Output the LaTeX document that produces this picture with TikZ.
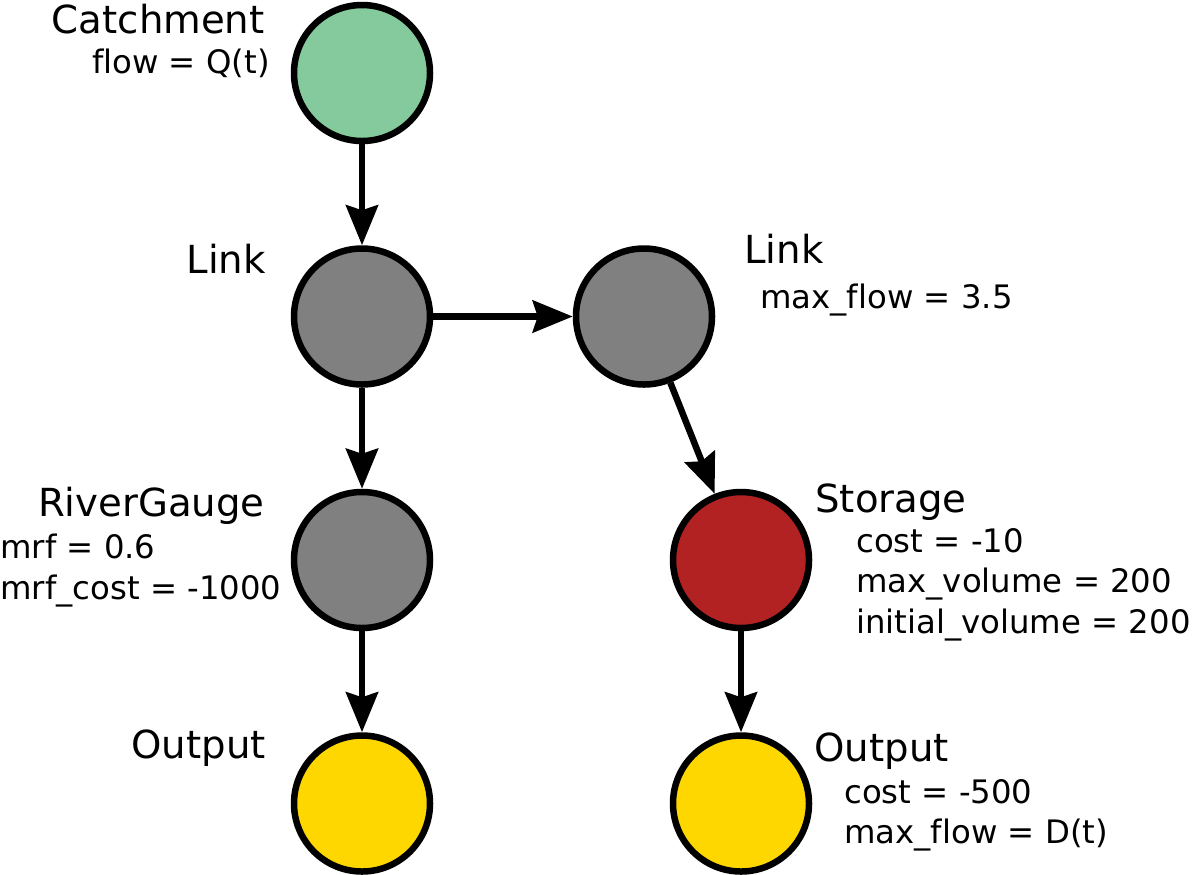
\documentclass[tikz,border=0pt]{standalone}
\usepackage{fontspec}
\setmainfont{DejaVu Sans}[Ligatures=CommonOff]
\usetikzlibrary{shapes.geometric, arrows.meta}
\definecolor{catchgreen}{RGB}{133,202,157}
\definecolor{linkgrey}{RGB}{128,128,128}
\definecolor{storered}{RGB}{178,34,34}
\definecolor{outyellow}{RGB}{255,215,0}
\tikzstyle{basenode} = [circle, 
minimum size=2.72cm, 
inner sep=0pt, 
draw=black, 
line width=0.13cm]
\tikzstyle{catchment} = [basenode, fill=catchgreen]
\tikzstyle{linknode} = [basenode, fill=linkgrey]
\tikzstyle{storagenode} = [basenode, fill=storered]
\tikzstyle{outputnode} = [basenode, fill=outyellow]
\tikzstyle{nodename} = [inner sep=0pt, 
font=\fontsize{22}{26}\selectfont]
\tikzstyle{attrs} = [inner sep=0pt, 
align=left, 
font=\fontsize{18.4}{22.8}\selectfont]
\tikzstyle{arrow} = [line width=0.13cm,-{Stealth[length=0.8cm, width=0.64cm, inset=0.1cm]}]

\begin{document}
\begin{tikzpicture} [node distance=4.87cm]
		\useasboundingbox (0,0) rectangle (23.88,-17.48);
		\node (catch) [catchment] at (7.24,-1.46) {};
		\node (link1) [linknode, below of=catch] {};
		\node (gauge) [linknode, below of=link1] {};
		\node (out1) [outputnode, below of=gauge] {};
		\node (link2) [linknode, right of=link1, node distance=5.64cm] {};
		\node (store) [storagenode, below of=link2, xshift=1.94cm] {};
		\node (out2) [outputnode, below of=store] {};
		% names and parameters (base = last line)
		\node (catchT) [nodename, anchor=base east, xshift=-1.94cm, yshift=0.8cm] at (catch.center) {Catchment};
		\node (catchA) [attrs, anchor=base east, xshift=-1.84cm] at (catch.center) {flow = Q(t)};
		\node (link1T) [nodename, anchor=base east, xshift=-1.92cm, yshift=0.86cm] at (link1.center) {Link};
		\node (gaugeT) [nodename, anchor=base east, xshift=-1.94cm, yshift=0.88cm] at (gauge.center) {RiverGauge};
		\node (gaugeA) [attrs, anchor=base west, xshift=-7.24cm, yshift=-0.78cm] at (gauge.center) {mrf = 0.6\\mrf\_cost = -1000};
		\node (out1T) [nodename, anchor=base east, xshift=-1.92cm, yshift=0.9cm] at (out1.center) {Output};
		\node (link2T) [nodename, anchor=base west, xshift=2cm, yshift=1.06cm] at (link2.center) {Link};
		\node (link2A) [attrs, anchor=base west, xshift=2.32cm, yshift=0.16cm] at (link2.center) {max\_flow = 3.5};
		\node (storeT) [nodename, anchor=base west, xshift=1.48cm, yshift=0.96cm] at (store.center) {Storage};
		\node (storeA) [attrs, anchor=base west, xshift=2.3cm, yshift=-1.46cm] at (store.center) {cost = -10\\max\_volume = 200\\initial\_volume = 200};
		\node (out2T) [nodename, anchor=base west, xshift=1.46cm, yshift=0.84cm] at (out2.center) {Output};
		\node (out2A) [attrs, anchor=base west, xshift=2.06cm, yshift=-0.8cm] at (out2.center) {cost = -500\\max\_flow = D(t)};
		\draw [arrow] (catch) -- (link1);
		\draw [arrow] (link1) -- (link2);
		\draw [arrow] (link1) -- (gauge);
		\draw [arrow] (gauge) -- (out1);
		\draw [arrow] (link2) -- (store);
		\draw [arrow] (store) -- (out2);
	\end{tikzpicture}
\end{document}
